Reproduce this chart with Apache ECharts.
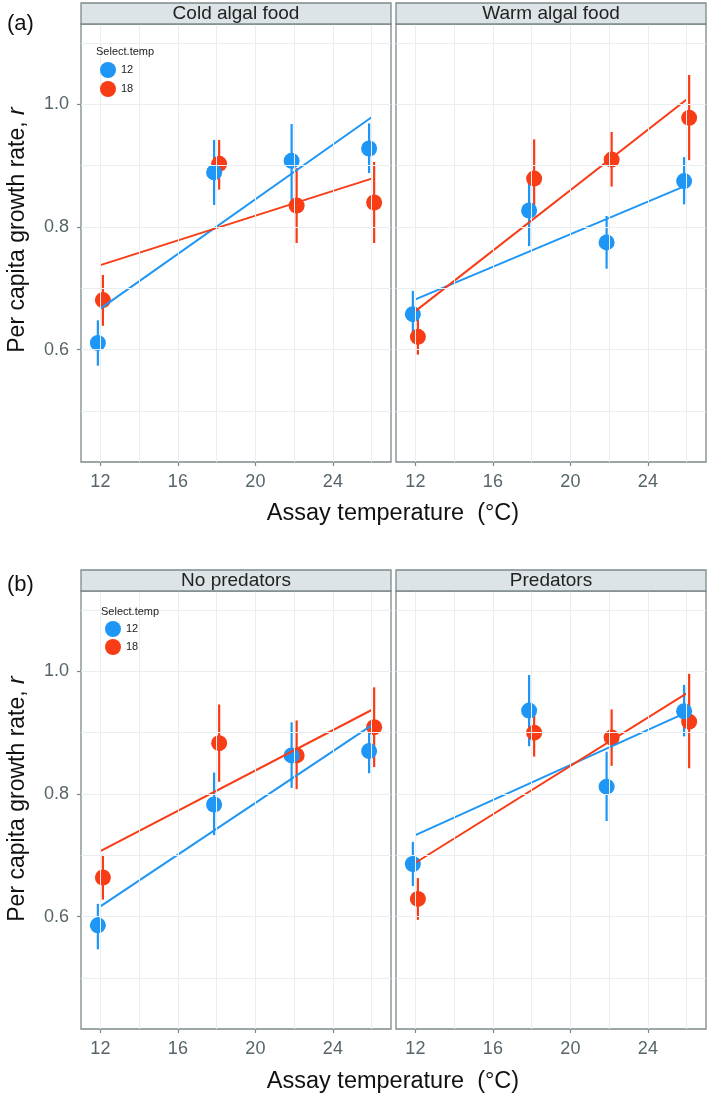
<!DOCTYPE html>
<html>
<head>
<meta charset="utf-8">
<script src="https://cdn.jsdelivr.net/npm/echarts@6/dist/echarts.min.js"></script>
<style>
html,body{margin:0;padding:0;background:#fff;}
#chart{width:709px;height:1097px;}
</style>
</head>
<body>
<div id="chart"></div>
<script>
// ---------------- DATA ----------------
const temps = [12, 18, 22, 26];
const fitTemps = [12, 26];
const xTickLabels = [12, 16, 20, 24];
const yTickLabels = [0.6, 0.8, 1.0];
const xGridValues = [12, 14, 16, 18, 20, 22, 24, 26];
const yGridValues = [0.5, 0.6, 0.7, 0.8, 0.9, 1.0, 1.1];
const seriesNames = ['12', '18'];
const panelTitles = ['Cold algal food', 'Warm algal food', 'No predators', 'Predators'];

// Cold algal food
const cold12 = [0.611, 0.889, 0.908, 0.928];
const cold12Lo = [0.574, 0.836, 0.839, 0.888];
const cold12Hi = [0.648, 0.942, 0.968, 0.969];
const cold18 = [0.681, 0.903, 0.835, 0.840];
const cold18Lo = [0.639, 0.861, 0.774, 0.774];
const cold18Hi = [0.722, 0.942, 0.896, 0.906];
const coldFit12 = [0.667, 0.979];
const coldFit18 = [0.738, 0.879];

// Warm algal food
const warm12 = [0.658, 0.827, 0.775, 0.875];
const warm12Lo = [0.620, 0.769, 0.732, 0.837];
const warm12Hi = [0.696, 0.872, 0.818, 0.914];
const warm18 = [0.621, 0.879, 0.910, 0.978];
const warm18Lo = [0.592, 0.818, 0.866, 0.909];
const warm18Hi = [0.650, 0.943, 0.955, 1.048];
const warmFit12 = [0.682, 0.868];
const warmFit18 = [0.663, 1.008];

// No predators
const nopred12 = [0.586, 0.783, 0.863, 0.870];
const nopred12Lo = [0.547, 0.733, 0.810, 0.834];
const nopred12Hi = [0.621, 0.835, 0.917, 0.906];
const nopred18 = [0.664, 0.883, 0.863, 0.909];
const nopred18Lo = [0.628, 0.820, 0.808, 0.844];
const nopred18Hi = [0.701, 0.946, 0.920, 0.974];
const nopredFit12 = [0.617, 0.912];
const nopredFit18 = [0.707, 0.937];

// Predators
const pred12 = [0.686, 0.936, 0.812, 0.935];
const pred12Lo = [0.650, 0.878, 0.756, 0.894];
const pred12Hi = [0.722, 0.994, 0.869, 0.978];
const pred18 = [0.629, 0.900, 0.892, 0.918];
const pred18Lo = [0.595, 0.861, 0.846, 0.842];
const pred18Hi = [0.663, 0.940, 0.938, 0.996];
const predFit12 = [0.733, 0.933];
const predFit18 = [0.688, 0.964];

// ---------------- STYLE / LAYOUT ----------------
const FONT = '"Liberation Sans", Arial, Helvetica, sans-serif';
const BLUE = '#1E96F5';
const RED = '#F83C16';
const BORDER = '#7c898b';
const GRIDC = '#e9eef3';
const TICKTXT = '#56656a';
const STRIP = '#dde4e7';
const DODGE = 0.13;
const X_MIN = 11, X_MAX = 27;
const Y_MIN = 0.417, Y_MAX = 1.131;

const panels = [
  {g: {left: 81, top: 24, width: 310, height: 438}, d: [[cold12, cold12Lo, cold12Hi, coldFit12], [cold18, cold18Lo, cold18Hi, coldFit18]], yLab: true},
  {g: {left: 396, top: 24, width: 310, height: 438}, d: [[warm12, warm12Lo, warm12Hi, warmFit12], [warm18, warm18Lo, warm18Hi, warmFit18]], yLab: false},
  {g: {left: 81, top: 591, width: 310, height: 438}, d: [[nopred12, nopred12Lo, nopred12Hi, nopredFit12], [nopred18, nopred18Lo, nopred18Hi, nopredFit18]], yLab: true},
  {g: {left: 396, top: 591, width: 310, height: 438}, d: [[pred12, pred12Lo, pred12Hi, predFit12], [pred18, pred18Lo, pred18Hi, predFit18]], yLab: false}
];
const colors = [BLUE, RED];
const offsets = [-DODGE, DODGE];

const grid = [], xAxis = [], yAxis = [], series = [], graphic = [];

panels.forEach((p, i) => {
  grid.push(Object.assign({show: true, borderColor: BORDER, borderWidth: 1.3, backgroundColor: '#fff', containLabel: false}, p.g));
  xAxis.push({
    type: 'value', gridIndex: i, min: X_MIN, max: X_MAX,
    axisLine: {show: false},
    axisTick: {show: true, customValues: xTickLabels, length: 4, lineStyle: {color: BORDER, width: 1.2}},
    axisLabel: {show: true, customValues: xTickLabels, margin: 11, fontSize: 18, color: TICKTXT, fontFamily: FONT},
    splitLine: {show: false}
  });
  yAxis.push({
    type: 'value', gridIndex: i, min: Y_MIN, max: Y_MAX,
    axisLine: {show: false},
    axisTick: {show: p.yLab, customValues: yTickLabels, length: 4, lineStyle: {color: BORDER, width: 1.2}},
    axisLabel: {show: p.yLab, customValues: yTickLabels, margin: 12, fontSize: 18, color: TICKTXT, fontFamily: FONT,
      formatter: v => Number(v).toFixed(1)},
    splitLine: {show: false}
  });
  // grid lines
  series.push({
    type: 'scatter', xAxisIndex: i, yAxisIndex: i, data: [], z: 0, silent: true,
    itemStyle: {color: GRIDC},
    markLine: {
      silent: true, symbol: ['none', 'none'], label: {show: false}, animation: false,
      lineStyle: {color: GRIDC, width: 1, type: 'solid'},
      emphasis: {disabled: true},
      data: yGridValues.map(v => ({yAxis: v})).concat(xGridValues.map(v => ({xAxis: v})))
    }
  });
  // error bars
  p.d.forEach((s, k) => {
    const ebData = temps.map((t, j) => [t + offsets[k], s[1][j], s[2][j]]);
    series.push({
      type: 'custom', name: seriesNames[k], xAxisIndex: i, yAxisIndex: i, z: 1, silent: true,
      itemStyle: {color: colors[k]},
      data: ebData,
      encode: {x: 0, y: [1, 2]},
      renderItem: (params, api) => {
        const a = api.coord([api.value(0), api.value(1)]);
        const b = api.coord([api.value(0), api.value(2)]);
        return {type: 'line', shape: {x1: a[0], y1: a[1], x2: b[0], y2: b[1]},
          style: {stroke: colors[k], lineWidth: 2.2}};
      }
    });
  });
  // points (red first, blue on top)
  [1, 0].forEach(k => {
    const s = p.d[k];
    series.push({
      type: 'scatter', name: seriesNames[k], xAxisIndex: i, yAxisIndex: i, z: 2 + (k === 0 ? 1 : 0),
      symbol: 'circle', symbolSize: 16, itemStyle: {color: colors[k], opacity: 1},
      data: temps.map((t, j) => [t + offsets[k], s[0][j]])
    });
  });
  // regression lines
  p.d.forEach((s, k) => {
    series.push({
      type: 'line', name: seriesNames[k], xAxisIndex: i, yAxisIndex: i, z: 4,
      symbol: 'none', lineStyle: {color: colors[k], width: 2}, itemStyle: {color: colors[k]},
      data: fitTemps.map((t, j) => [t, s[3][j]])
    });
  });
  // strip header
  graphic.push({
    type: 'rect', shape: {x: p.g.left, y: p.g.top - 21, width: p.g.width, height: 21},
    style: {fill: STRIP, stroke: BORDER, lineWidth: 1.3}, z: 10
  });
  graphic.push({
    type: 'text', x: p.g.left + p.g.width / 2, y: p.g.top - 10.5, z: 11,
    style: {text: panelTitles[i], fontSize: 19, fontFamily: FONT, fill: '#222', align: 'center', verticalAlign: 'middle'}
  });
});

// axis titles & panel tags & legend boxes
[{tag: '(a)', ty: 24, cy: 230, xt: 514, ly: 52, lx: 96, by: 40}, {tag: '(b)', ty: 585, cy: 799, xt: 1082, ly: 612, lx: 101, by: 600}].forEach(o => {
  graphic.push({type: 'text', x: 7, y: o.ty, style: {text: o.tag, fontSize: 22, fontFamily: FONT, fill: '#111', align: 'left', verticalAlign: 'middle'}});
  graphic.push({type: 'text', x: 393, y: o.xt, style: {text: 'Assay temperature  (°C)', fontSize: 23.5, fontFamily: FONT, fill: '#111', align: 'center', verticalAlign: 'middle'}});
  graphic.push({type: 'text', x: 18, y: o.cy, rotation: Math.PI / 2,
    style: {text: '{n|Per capita growth rate, }{i|r}', align: 'center', verticalAlign: 'middle',
      rich: {n: {fontSize: 23, fontFamily: FONT, fill: '#111'}, i: {fontSize: 23, fontFamily: FONT, fill: '#111', fontStyle: 'italic'}}}});
  graphic.push({type: 'rect', shape: {x: o.lx - 4, y: o.by, width: 68, height: 60}, style: {fill: '#fff'}, z: 5});
  graphic.push({type: 'text', x: o.lx, y: o.ly, z: 6, style: {text: 'Select.temp', fontSize: 11, fontFamily: FONT, fill: '#222', align: 'left', verticalAlign: 'middle'}});
});

const legend = [
  {left: 100, top: 62, padding: 0, orient: 'vertical', itemGap: 3, itemWidth: 16, itemHeight: 16, icon: 'circle', selectedMode: false, z: 7,
   data: seriesNames, textStyle: {fontSize: 11, fontFamily: FONT, color: '#222'}},
  {left: 105, top: 621, padding: 0, orient: 'vertical', itemGap: 2, itemWidth: 16, itemHeight: 16, icon: 'circle', selectedMode: false, z: 7,
   data: seriesNames, textStyle: {fontSize: 11, fontFamily: FONT, color: '#222'}}
];

const chart = echarts.init(document.getElementById('chart'), null, {renderer: 'canvas'});
chart.setOption({
  animation: false,
  backgroundColor: '#fff',
  color: [BLUE, RED],
  grid, xAxis, yAxis, series, graphic, legend
});
</script>
</body>
</html>
